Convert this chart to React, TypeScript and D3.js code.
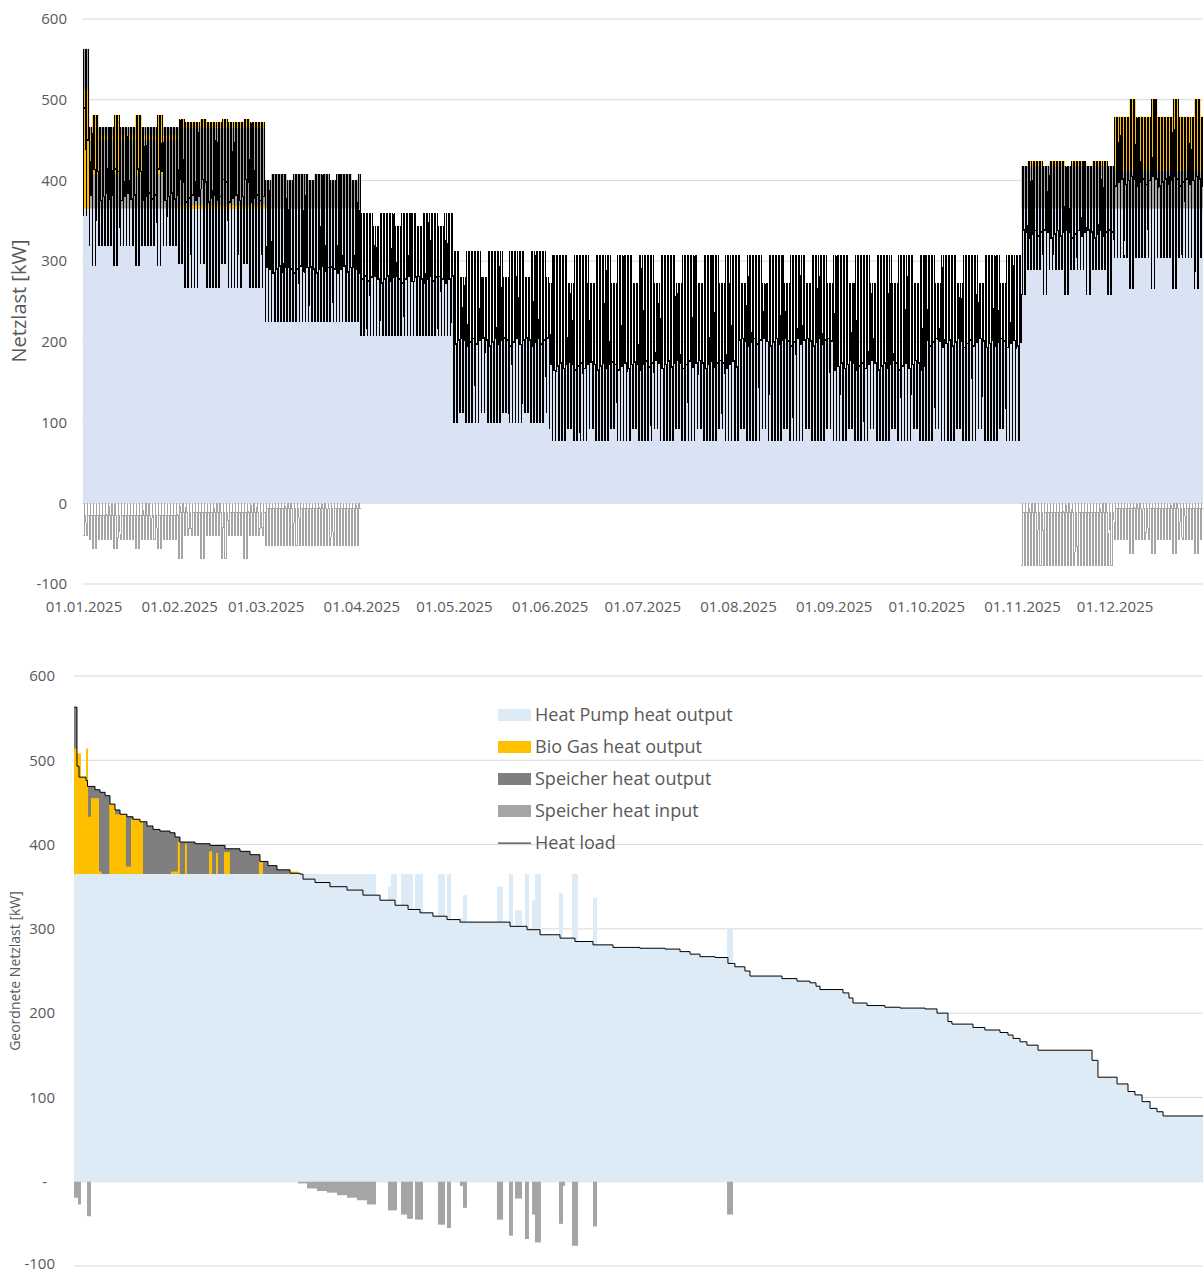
import React from 'react';
import * as d3 from 'd3';

const W = 1203;
const H = 1273;
const FONT = "'Open Sans', sans-serif";
const TXT = '#595959';
const GRID = '#d9d9d9';

// ---------------- Top chart: chronological hourly heat load 2025 ----------------
const monthStartDay = [0, 31, 59, 90, 120, 151, 181, 212, 243, 273, 304, 334];
const monthLabels = ['01.01.2025', '01.02.2025', '01.03.2025', '01.04.2025', '01.05.2025', '01.06.2025', '01.07.2025', '01.08.2025', '01.09.2025', '01.10.2025', '01.11.2025', '01.12.2025'];
const yTicks = [600, 500, 400, 300, 200, 100, 0, -100];

// daily heat-load levels per month (kW): weekdays / weekends
const loadHighWd = [466, 472, 408, 360, 313, 307, 307, 307, 307, 307, 424, 479];
const loadHighWe = [481, 476, 400, 344, 280, 273, 273, 273, 273, 273, 418, 501];
const loadMidWd = [380, 378, 290, 278, 200, 170, 172, 200, 170, 198, 334, 398];
const loadMidWe = [405, 392, 284, 272, 196, 166, 168, 195, 168, 195, 330, 396];
const loadLowWd = [320, 267, 225, 208, 100, 78, 78, 78, 78, 78, 290, 304];
const loadLowWe = [295, 297, 225, 208, 113, 93, 93, 93, 93, 93, 259, 266];
// day-of-week offset of the daytime level (Sun..Sat, kW)
const midDowOffset = [6, -5, 0, 4, -3, 2, 9];

// heat pump running flat at full output (kW) in winter months, 0 = follows load
const hpFlatMonth = [365, 365, 365, 0, 0, 0, 0, 0, 0, 0, 365, 365];

// Speicher heat output envelope top (kW)
const storOutTopWd = [466, 466, 408, 0, 0, 0, 0, 0, 0, 0, 418, 412];
const storOutTopWe = [466, 466, 400, 0, 0, 0, 0, 0, 0, 0, 418, 412];

// Bio gas heat output band (kW)
const bioLoWd = [450, 466, 0, 0, 0, 0, 0, 0, 0, 0, 418, 412];
const bioHiWd = [456, 472, 0, 0, 0, 0, 0, 0, 0, 0, 424, 479];
const bioLoWe = [408, 466, 0, 0, 0, 0, 0, 0, 0, 0, 0, 412];
const bioHiWe = [481, 476, 0, 0, 0, 0, 0, 0, 0, 0, 0, 501];
const bioFloorTop = [0, 369, 0, 0, 0, 0, 0, 0, 0, 0, 0, 0];

// Speicher heat input (kW, negative)
const storInLowWd = [-45, -40, -52, 0, 0, 0, 0, 0, 0, 0, -77, -45];
const storInLowWe = [-56, -68, -52, 0, 0, 0, 0, 0, 0, 0, -77, -62];
const storInMid = [-15, -12, -6, 0, 0, 0, 0, 0, 0, 0, -12, -6];

// 1 and 2 January
const newYearHigh = [563, 563];
const newYearMid = [490, 450];
const newYearLow = [357, 357];
const newYearBioTop = [513, 513];
const newYearStorIn = [-40, -40];

// hourly shape of a day's heat load: 0 = low, 1 = mid, 2 = high
const hourLevel = [0, 0, 0, 0, 0, 0, 2, 1, 1, 1, 1, 1, 1, 1, 1, 1, 1, 1, 2, 1, 1, 1, 1, 1];
const hourWiggle = [0, 0, 0, 0, 0, 0, 0, 1, -1, 1, 0, -1, 1, -1, 0, 1, -1, 0, 0, 1, -1, 1, 0, -1];
// hourly shape of the Speicher charging: 1 = full charge, m = partial, 0 = none
const storInHour = ['1', '1', '1', '1', '1', '1', '1', '1', '1', '0', '0', 'm', 'm', 'm', 'm', 'm', 'm', 'm', 'm', 'm', 'm', 'm', 'm', 'm'];

// ---------------- Bottom chart: sorted (duration) curve ----------------
const sortedLoadSteps: [number, number][] = [
  [0, 563], [23, 493], [39, 480], [93, 476], [105, 469], [163, 465], [202, 462], [241, 458], [279, 448], [318, 441],
  [357, 436], [411, 433], [458, 430], [512, 427], [566, 422], [613, 418], [667, 416], [745, 414], [784, 409], [822, 403],
  [939, 401], [1055, 399], [1172, 395], [1288, 392], [1366, 388], [1443, 380], [1505, 375], [1575, 370], [1676, 366], [1754, 365],
  [1777, 359], [1870, 355], [1986, 350], [2118, 346], [2242, 340], [2374, 334], [2491, 328], [2592, 323], [2685, 319], [2785, 315],
  [2894, 311], [2995, 308], [3383, 303], [3515, 299], [3616, 293], [3771, 289], [3887, 285], [4027, 281], [4182, 278], [4391, 277],
  [4586, 276], [4702, 273], [4780, 270], [4857, 267], [4974, 266], [5074, 259], [5128, 255], [5206, 250], [5245, 244], [5493, 241],
  [5610, 238], [5711, 236], [5757, 232], [5788, 228], [5967, 224], [6013, 218], [6044, 212], [6153, 209], [6292, 207], [6409, 206],
  [6603, 205], [6696, 200], [6781, 190], [6812, 187], [6975, 183], [7068, 180], [7185, 177], [7247, 174], [7286, 170], [7340, 166],
  [7394, 162], [7480, 156], [7899, 144], [7945, 124], [8093, 116], [8178, 107], [8232, 103], [8287, 95], [8349, 87], [8403, 83],
  [8450, 78], [8760, 78],
];
const sortedHpCols: [number, number, number][] = [
  [0, 2343, 365], [2436, 2459, 350], [2459, 2506, 365], [2537, 2630, 365], [2646, 2708, 365], [2824, 2879, 365], [2894, 2925, 365],
  [2995, 3018, 313], [3018, 3049, 340], [3282, 3329, 350], [3375, 3406, 365], [3422, 3476, 322], [3499, 3530, 365], [3554, 3577, 334],
  [3577, 3623, 365], [3763, 3794, 343], [3864, 3911, 365], [4027, 4058, 337], [5067, 5113, 300],
];
const sortedBioCols: [number, number, number][] = [
  [0, 23, 514], [23, 54, 508], [54, 93, 480], [93, 109, 514], [109, 132, 433], [132, 194, 455], [194, 215, 368], [274, 318, 448],
  [318, 403, 436], [403, 442, 374], [442, 512, 430], [512, 535, 427], [752, 805, 368], [805, 822, 403], [861, 876, 401],
  [1048, 1071, 392], [1102, 1117, 390], [1164, 1210, 391], [1435, 1466, 380], [1668, 1738, 368],
];
const sortedStorInCols: [number, number, number][] = [
  [0, 31, -19], [31, 54, -27], [101, 132, -41], [1738, 1808, -2], [1808, 1885, -8], [1885, 1963, -11], [1963, 2041, -13],
  [2041, 2118, -16], [2118, 2196, -19], [2196, 2273, -22], [2273, 2343, -27], [2436, 2506, -34], [2537, 2584, -39], [2584, 2630, -44],
  [2646, 2708, -45], [2824, 2879, -51], [2894, 2925, -55], [2995, 3018, -5], [3018, 3049, -31], [3282, 3329, -45], [3375, 3406, -64],
  [3422, 3476, -20], [3499, 3530, -68], [3554, 3577, -39], [3577, 3623, -72], [3763, 3794, -50], [3794, 3810, -5], [3864, 3911, -76],
  [4027, 4058, -53], [5067, 5113, -39],
];
const legendLabels = ['Heat Pump heat output', 'Bio Gas heat output', 'Speicher heat output', 'Speicher heat input', 'Heat load'];
const legendColors = ['#ddebf7', '#ffc000', '#7f7f7f', '#a5a5a5', '#404040'];

type DayP = { high: number; mid: number; low: number; hpFlat: number; outTop: number; bioLo: number; bioHi: number; floorTop: number; inLow: number; inMid: number };

function dayParams(d: number): DayP {
  const date = new Date(2025, 0, 1 + d);
  const m = date.getMonth();
  const dow = date.getDay();
  const we = dow === 0 || dow === 6;
  if (d < newYearHigh.length) {
    return { high: newYearHigh[d], mid: newYearMid[d], low: newYearLow[d], hpFlat: 365, outTop: newYearHigh[d], bioLo: 365, bioHi: newYearBioTop[d], floorTop: 0, inLow: newYearStorIn[d], inMid: storInMid[0] };
  }
  return {
    high: (we ? loadHighWe : loadHighWd)[m],
    mid: (we ? loadMidWe : loadMidWd)[m] + midDowOffset[dow],
    low: (we ? loadLowWe : loadLowWd)[m],
    hpFlat: hpFlatMonth[m],
    outTop: (we ? storOutTopWe : storOutTopWd)[m],
    bioLo: (we ? bioLoWe : bioLoWd)[m],
    bioHi: (we ? bioHiWe : bioHiWd)[m],
    floorTop: bioFloorTop[m],
    inLow: (we ? storInLowWe : storInLowWd)[m],
    inMid: storInMid[m],
  };
}

export default function App() {
  const days = d3.range(365);
  const params = days.map(dayParams);

  // top scales
  const xT = d3.scaleLinear().domain([0, 365]).range([83, 1209.8]);
  const yT = d3.scaleLinear().domain([-100, 600]).range([584, 19]);

  type Hr = { t: number; load: number; hp: number; sin: number; winter: boolean };
  const hours: Hr[] = [];
  days.forEach((d) => {
    const p = params[d];
    for (let h = 0; h < 24; h++) {
      const lv = hourLevel[h];
      let load = lv <= 1 ? p.low + (p.mid - p.low) * lv : p.mid + (p.high - p.mid) * (lv - 1);
      if (lv === 1) load += hourWiggle[h];
      const winter = p.hpFlat > 0;
      const hp = winter ? p.hpFlat : load;
      const s = storInHour[h];
      const sin = !winter ? 0 : s === '1' ? p.inLow : s === 'm' ? p.inMid : 0;
      hours.push({ t: d + h / 24, load, hp, sin, winter });
    }
  });
  const last = hours[hours.length - 1];
  hours.push({ ...last, t: 365 });

  const blueArea = d3.area<Hr>().x((h) => xT(h.t)).y0(yT(0)).y1((h) => yT(h.hp))(hours) || '';
  const loadLine = d3.line<Hr>().x((h) => xT(h.t)).y((h) => yT(h.load))(hours) || '';
  const sinLine = d3.line<Hr>().defined((h) => h.winter).x((h) => xT(h.t)).y((h) => yT(h.sin))(hours) || '';

  type BP = { t: number; lo: number; hi: number; ok: boolean };
  const band = (lo: (p: DayP) => number, hi: (p: DayP) => number) => {
    const pts: BP[] = [];
    days.forEach((d) => {
      const p = params[d];
      const l = lo(p);
      const u = hi(p);
      const ok = u > l && u > 0;
      pts.push({ t: d, lo: l, hi: u, ok }, { t: d + 1, lo: l, hi: u, ok });
    });
    return d3.area<BP>().defined((b) => b.ok).x((b) => xT(b.t)).y0((b) => yT(b.lo)).y1((b) => yT(b.hi))(pts) || '';
  };
  const grayBand = band((p) => p.hpFlat, (p) => p.outTop);
  const bioBand = band((p) => p.bioLo, (p) => p.bioHi);
  const floorBand = band((p) => p.hpFlat, (p) => p.floorTop);

  // bottom scales
  const xB = d3.scaleLinear().domain([0, 8760]).range([74, 1203]);
  const yB = d3.scaleLinear().domain([-100, 600]).range([1266, 676]);
  const stepLine = d3.line<[number, number]>().curve(d3.curveStepAfter).x((s) => xB(s[0])).y((s) => yB(s[1]));
  const blueB = d3.area<[number, number]>().curve(d3.curveStepAfter).x((s) => xB(s[0])).y0(yB(0)).y1((s) => yB(s[1]))(sortedLoadSteps) || '';
  const overCap = sortedLoadSteps.filter((s) => s[1] >= 365);
  const grayCap: [number, number][] = [...overCap, [sortedLoadSteps[overCap.length][0], 365]];
  const grayB = d3.area<[number, number]>().curve(d3.curveStepAfter).x((s) => xB(s[0])).y0(yB(365)).y1((s) => yB(Math.max(s[1], 365)))(grayCap) || '';
  const loadB = stepLine(sortedLoadSteps) || '';

  const colRect = (c: [number, number, number], base: number, fill: string, key: string) => {
    const y1 = yB(Math.max(c[2], base));
    const y0 = yB(Math.min(c[2], base));
    return <rect key={key} x={xB(c[0])} y={y1} width={xB(c[1]) - xB(c[0])} height={y0 - y1} fill={fill} />;
  };

  return (
    <svg width={W} height={H} style={{ position: 'absolute', left: 0, top: 0, background: '#fff' }} fontFamily={FONT}>
      <rect x={0} y={0} width={W} height={H} fill="#fff" />
      {/* ---------- top chart ---------- */}
      {yTicks.map((v) => (
        <g key={'gt' + v}>
          <line x1={82} x2={W} y1={yT(v)} y2={yT(v)} stroke={GRID} strokeWidth={1} />
          <text x={67} y={yT(v)} dy="0.35em" textAnchor="end" fontSize={15} fill={TXT}>{v}</text>
        </g>
      ))}
      <path d={blueArea} fill="#dae3f3" />
      <path d={grayBand} fill="#a5a5a5" />
      <path d={floorBand} fill="#ffc000" />
      <path d={bioBand} fill="#ffc000" />
      <path d={sinLine} fill="none" stroke="#a5a5a5" strokeWidth={1} shapeRendering="crispEdges" />
      <path d={loadLine} fill="none" stroke="#000" strokeWidth={1} shapeRendering="crispEdges" />
      {monthStartDay.map((d, i) => (
        <text key={'mx' + i} x={xT(d) + 1} y={612} textAnchor="middle" fontSize={15} fill={TXT}>{monthLabels[i]}</text>
      ))}
      <text transform={`translate(26,301) rotate(-90)`} textAnchor="middle" fontSize={20} fill={TXT}>Netzlast [kW]</text>

      {/* ---------- bottom chart ---------- */}
      {yTicks.map((v) => (
        <g key={'gb' + v}>
          <line x1={74} x2={W} y1={yB(v)} y2={yB(v)} stroke={GRID} strokeWidth={1} />
          {v === 0 ? (
            <text x={47} y={yB(v)} dy="0.35em" textAnchor="end" fontSize={15} fill={TXT}>-</text>
          ) : (
            <text x={55} y={yB(v) - (v === -100 ? 2 : 0)} dy="0.35em" textAnchor="end" fontSize={15} fill={TXT}>{v}</text>
          )}
        </g>
      ))}
      <path d={blueB} fill="#ddebf7" />
      {sortedHpCols.map((c, i) => colRect(c, 0, '#ddebf7', 'hp' + i))}
      <path d={grayB} fill="#7f7f7f" />
      {sortedBioCols.map((c, i) => colRect(c, 365, '#ffc000', 'bio' + i))}
      {sortedStorInCols.map((c, i) => colRect(c, 0, '#a5a5a5', 'sin' + i))}
      <path d={loadB} fill="none" stroke="#000" strokeWidth={1} />
      <text transform={`translate(20,971) rotate(-90)`} textAnchor="middle" fontSize={14} fill={TXT}>Geordnete Netzlast [kW]</text>

      {legendLabels.map((lab, i) => {
        const cy = 715 + i * 32;
        return (
          <g key={'lg' + i}>
            {i < 4 ? (
              <rect x={498} y={cy - 6} width={33} height={12} fill={legendColors[i]} />
            ) : (
              <line x1={498} x2={531} y1={cy} y2={cy} stroke={legendColors[i]} strokeWidth={1.25} />
            )}
            <text x={535} y={cy} dy="0.35em" fontSize={18} fill={TXT}>{lab}</text>
          </g>
        );
      })}
    </svg>
  );
}
